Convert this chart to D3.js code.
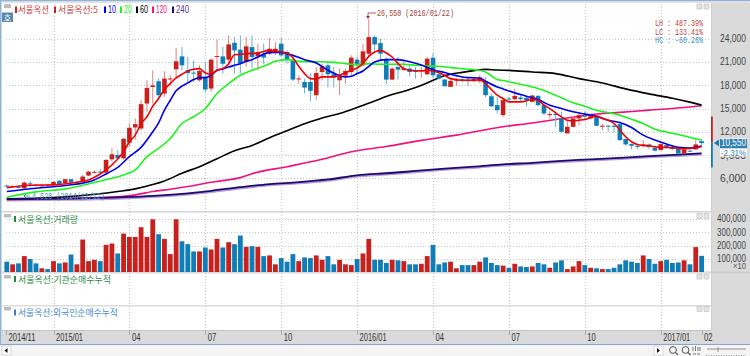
<!DOCTYPE html>
<html><head><meta charset="utf-8">
<script src="https://cdn.jsdelivr.net/npm/d3@7"></script>
<style>html,body{margin:0;padding:0;background:#fff;overflow:hidden}svg{display:block}</style>
</head><body><svg id="c" width="750" height="356"></svg>
<script>
const candleOpen=[5060,4950,4900,4720,5350,5170,5020,5100,5150,5680,
5370,5880,5450,5580,6350,6800,6860,6730,8450,9010,
8580,10600,12570,12440,15660,17800,18540,16950,18850,20085,
21755,19960,19650,18670,19100,17600,21700,21755,21330,23515,
22620,21030,22960,21755,22100,22100,22315,23390,22315,21330,
18800,18450,18450,16740,19740,20600,19440,18670,19270,19740,
21330,20600,22100,24245,23475,21330,18755,20385,20000,20170,
19960,19900,19440,21585,19440,18755,17810,18700,18800,18755,
18540,18540,18540,16600,15450,14165,16300,16225,16440,16400,
15880,16650,15450,14200,14300,13730,11800,12650,13730,14100,
13730,14030,12700,12800,12780,13000,11070,10420,10190,10170,
10380,9950,9650,10300,10080,9780,9220,9570,9740,10800];
const candleClose=[5000,5010,4850,5450,5300,5120,5080,5050,5530,5280,
5880,5450,5500,6220,6860,6840,6800,8370,9100,8580,
11110,12530,13000,15580,17680,18000,16740,18880,18900,21115,
20600,19600,19550,19870,17470,21330,21800,20800,23300,22530,
20815,23050,21670,22315,21600,22740,22740,21885,21330,18755,
18900,17725,17300,19600,20470,19440,19010,19180,19870,21585,
20600,22400,24245,23300,22100,18755,20170,20040,20200,19740,
19740,19990,21460,19310,18880,17900,18585,18780,18700,18540,
18880,19010,16740,15300,14800,16100,16200,16650,16225,16100,
16700,15450,14380,14300,14200,12010,12650,13730,14160,14000,
14030,12790,12800,12700,12700,10940,10380,10200,10100,10380,
10080,9570,10420,10000,9780,9220,9740,9500,10380,10550];
const candleHigh=[5200,5100,4950,5580,5650,5300,5200,5200,5620,5750,
5950,5950,5700,6430,6950,7050,7180,8500,9870,9650,
11250,13080,13730,16100,18670,19950,18900,19830,19300,22830,
22960,21670,21240,20600,21000,21500,23900,23000,24460,24250,
24460,24250,24460,23390,23400,24160,23600,24160,22530,21670,
19300,18880,19530,20385,20800,21030,20385,20170,20170,21885,
21755,23390,26550,24460,24030,21670,20385,21670,21240,20600,
20385,20400,21670,22185,19530,18880,18885,19000,19000,19100,
19000,19300,19100,16950,16500,16300,16500,17600,16740,16540,
16800,16740,15880,14660,14600,14600,13500,13950,14370,14670,
14200,14160,13080,12880,13000,13100,11160,10500,10300,10940,
10500,10080,10500,10380,10300,10000,9870,9740,10940,11000];
const candleLow=[4850,4800,4700,4520,4800,4900,4950,4950,5100,5200,
5300,5350,5300,5500,6300,6600,6650,6700,8150,8370,
8400,10080,11030,12200,14600,15670,16300,16520,18000,18880,
19960,18450,18450,18500,17040,17200,19740,19530,20600,19530,
19530,20400,20170,19960,20800,21900,21900,21670,20815,18540,
18240,16950,15965,16100,18670,17725,17725,16740,18240,19310,
19310,20470,21670,22530,21240,18150,18670,18755,19870,19180,
18880,19000,19310,18880,18750,17900,17800,18000,18400,17900,
18400,18300,16500,15220,14400,13950,15880,16100,15880,15300,
15850,15320,14165,13730,12650,11880,11800,12560,12870,13500,
13600,12750,12230,12010,11880,10800,10200,9740,9740,10000,
9740,9480,9570,9860,9650,9140,9140,9400,9650,10170];
const volume=[78,58,65,120,98,65,28,22,82,65,72,132,58,245,82,92,82,205,215,140,
290,265,265,338,265,398,285,250,135,398,232,210,155,155,185,170,250,185,225,210,
275,190,195,190,120,125,58,105,78,135,82,110,105,125,92,120,58,92,58,52,
98,140,250,92,92,68,92,88,82,58,58,62,120,205,58,72,78,28,52,52,
52,78,110,68,52,48,32,62,42,38,42,68,58,32,72,88,22,42,82,52,
32,28,22,22,32,58,88,78,68,125,98,62,82,92,68,72,88,58,188,122];

const ma5Idx=[0,4,8,12,14,16,18,20,21,22,23,24,25,26,27,28,29,30,31,32,33,34,35,36,37,38,39,40,41,43,45,47,48,49,50,51,52,53,54,56,57,59,60,61,62,63,64,65,66,67,68,69,71,72,73,75,76,78,80,81,82,83,84,85,86,88,90,91,92,93,94,95,96,97,98,99,100,101,102,103,104,105,106,107,108,110,112,114,116,118,119];
const ma5Val=[4800,5100,5150,5490,5790,6560,7720,9440,10725,11580,13080,13950,15320,16310,17460,18240,18970,19440,19870,20085,20170,19610,19440,19960,20170,20815,21970,22015,22100,22200,22530,22315,22190,21585,20470,19530,18880,18840,19100,19100,19310,19960,20260,20815,21760,22315,22530,22190,21670,20815,20170,19960,19870,19960,19870,19310,18880,18670,18670,18755,18240,17470,16740,16310,15880,15880,16180,16100,15450,15000,14460,13940,13510,13430,13510,13600,13860,14030,13730,13510,13080,12230,11370,10725,10380,10170,10000,9950,9820,9950,10080];
const ma10Idx=[0,5,10,15,17,19,21,23,25,26,27,28,29,30,31,32,33,34,35,36,37,38,39,40,41,42,43,45,47,49,51,53,55,57,58,59,60,61,62,63,65,67,69,71,73,75,77,79,81,82,84,85,87,89,91,93,95,97,99,101,103,105,107,109,111,113,115,117,119];
const ma10Val=[4290,4720,5060,5790,6560,7420,8800,10000,12010,13170,14800,16090,17300,17900,18325,18755,19010,19010,19310,19960,20130,20385,20600,20815,21115,21330,21670,22270,22270,21885,21330,20900,19960,19270,19100,19180,19530,19870,20470,21030,21330,21330,21070,20640,20040,19660,19270,19010,18970,18540,17810,17550,17040,16610,16180,15450,15020,14590,14290,14030,13510,13210,12570,11580,10940,10420,10000,9910,10170];
const ma20Idx=[0,5,10,15,18,20,22,24,26,28,30,32,34,36,38,40,42,44,46,48,50,52,54,56,58,60,62,64,66,68,70,72,74,76,78,80,82,84,85,87,89,91,93,95,97,99,101,103,105,107,109,111,113,115,117,119];
const ma20Val=[3560,4250,4630,5450,6000,6430,7080,8790,9870,11150,13080,13950,15020,16950,18240,19310,19960,20470,21115,21330,21115,21070,21070,20985,20815,20685,20815,20730,20730,20730,20600,20515,20470,20300,20170,20040,19740,18755,18630,18325,17980,17600,17040,16400,15750,15320,14800,14500,14160,13640,13080,12350,11970,11670,11280,10940];
const ma60Idx=[0,8,16,19,22,25,27,30,33,36,39,42,45,48,51,54,57,60,63,66,69,72,74,76,78,80,82,84,86,90,94,98,102,106,110,114,117,119];
const ma60Val=[3350,3500,4000,4290,4630,5190,5660,6650,7500,8530,9570,10250,11250,12150,13040,13800,14370,15150,16000,16820,17460,18320,19000,19435,19690,19910,20080,19990,19950,19740,19530,18880,18325,17555,16910,16350,15840,15450];
const ma120Idx=[0,10,19,22,25,28,31,34,37,40,42,48,54,59,65,71,77,85,90,94,98,101,105,110,116,119];
const ma120Val=[3250,3400,3600,3860,4290,4590,4930,5360,5700,6090,6600,7500,8460,9440,10100,10900,11580,12660,13150,13600,14000,14300,14520,14810,15140,15365];
const ma240Idx=[0,10,20,25,30,35,40,45,50,55,60,65,70,75,80,85,90,95,100,105,110,115,119];
const ma240Val=[3300,3370,3560,3730,3990,4380,4850,5250,5500,5850,6380,6650,6950,7250,7500,7800,8000,8260,8450,8650,8870,9050,9220];

const priceTicks=[24000,21000,18000,15000,12000,9000,6000];
const volTicks=[400000,300000,200000,100000];
const dateTickIdx=[-0.9,8,21,34,47,60,73,86,99,112,119];
const dateTickLabels=["2014/11","2015/01","04","07","10","2016/01","04","07","10","2017/01","02"];
const lastPrice=10550;

const RED="#c8201c",BLUE="#0f7db8",GRID="#c6c6c6",PANEL="#dadada";
const KR="'Noto Sans CJK KR','Noto Sans',sans-serif",NUM="'Liberation Sans',Arial,sans-serif",MONO="'Liberation Mono',monospace";
const svg=d3.select("#c");
const x=d3.scaleLinear().domain([0,119]).range([6.8,701.6]);
const y=d3.scaleLinear().domain([6000,24000]).range([178.3,39]);
const yv=d3.scaleLinear().domain([0,400000]).range([272,219]);

function rect(a,b,w,h,f){return svg.append("rect").attr("x",a).attr("y",b).attr("width",w).attr("height",h).attr("fill",f);}
// text narrowed to a target width with a horizontal scale, as in the reference's condensed bitmap font
function txt(s,a,b,o){o=o||{};
 const e=svg.append("text").text(s)
 .attr("font-family",o.font||NUM).attr("font-size",o.size||10).attr("fill",o.fill||"#333").attr("dominant-baseline","central");
 if(o.len){
  const natural=e.node().getComputedTextLength();
  const k=o.len/natural;
  const ax=o.anchor==="end"?a-o.len:a;
  e.attr("transform",`translate(${ax},${b}) scale(${k},1)`);
 }else{
  e.attr("x",a).attr("y",b).attr("text-anchor",o.anchor||"start");
 }
 return e;}

// frame
rect(0,0,750,356,"#fff");
rect(711,3,39,328,PANEL);
rect(0,0,750,1.5,"#8fb4d8");
rect(0,0,1.5,345,"#8fb4d8");
rect(1.5,1.5,748,1.5,"#e2e2e2");
rect(2,211,709,1.5,"#d4d4d4");
rect(2,271.5,748,1,"#cfcfcf");
rect(2,272,709,1.5,"#dcdcdc");
rect(2,305,709,1.5,"#dcdcdc");
rect(2,330,748,14,PANEL);
rect(2,330,709,1,"#c4c4c4");
rect(711,272,39,1,"#c8c8c8");
rect(711,3,1,328,"#cfcfcf");
rect(0,344,750,1.2,"#7fa9d4");
rect(0,345.2,750,11,"#f4f4f4");

// grid
const gridG=svg.append("g").attr("stroke",GRID).attr("stroke-dasharray","1,2").attr("shape-rendering","crispEdges");
gridG.selectAll("line.h").data(priceTicks).join("line").attr("class","h").attr("x1",6).attr("x2",711).attr("y1",d=>Math.round(y(d))).attr("y2",d=>Math.round(y(d)));
gridG.selectAll("line.v").data(volTicks).join("line").attr("class","v").attr("x1",6).attr("x2",711).attr("y1",d=>Math.round(yv(d))).attr("y2",d=>Math.round(yv(d)));
const vg=dateTickIdx.slice(1,10);
[[4,211],[212,272],[273,305],[306,330]].forEach(r=>{
 const g=svg.append("g").attr("stroke",GRID).attr("stroke-dasharray","1,2").attr("shape-rendering","crispEdges");
 g.selectAll("line").data(vg).join("line").attr("x1",d=>Math.round(x(d))+0.5).attr("x2",d=>Math.round(x(d))+0.5).attr("y1",r[0]).attr("y2",r[1]);
});
// date ticks
dateTickIdx.forEach((d,i)=>{
 const px=i==0?6:x(d);
 rect(Math.round(px),330,1,5,"#aaa");
 const lab=dateTickLabels[i];
 txt(lab,px+2.5,338,{size:10,fill:"#333",len:lab.length==7?27:8.5});
});

// moving averages
const lineGen=(idx)=>d3.line().x((d,i)=>x(idx[i])).y(d=>y(d)).curve(d3.curveMonotoneX);
function ma(idx,val,color,w,dy){svg.append("path").attr("d",lineGen(idx)(val)).attr("fill","none").attr("stroke",color).attr("stroke-width",w).attr("stroke-linejoin","round").attr("transform",dy?`translate(0,${dy})`:null);}
ma(ma240Idx,ma240Val,"#b79ad8",2,1.2);
ma(ma120Idx,ma120Val,"#f0107f",1.6);
ma(ma60Idx,ma60Val,"#000000",1.6);
ma(ma240Idx,ma240Val,"#1c0a70",1.8);

// candles
const idxs=d3.range(candleOpen.length);
const up=i=>candleClose[i]>=candleOpen[i];
svg.append("g").selectAll("line").data(idxs).join("line")
 .attr("x1",i=>x(i)).attr("x2",i=>x(i)).attr("y1",i=>y(candleHigh[i])).attr("y2",i=>y(candleLow[i]))
 .attr("stroke",i=>up(i)?"#e07f7f":"#62b2d8").attr("stroke-width",1);
svg.append("g").selectAll("rect").data(idxs).join("rect")
 .attr("x",i=>x(i)-2.3).attr("width",4.6)
 .attr("y",i=>y(Math.max(candleOpen[i],candleClose[i])))
 .attr("height",i=>Math.max(1,Math.abs(y(candleOpen[i])-y(candleClose[i]))))
 .attr("fill",i=>up(i)?RED:BLUE);

ma(ma20Idx,ma20Val,"#1cf51c",1.6);
ma(ma10Idx,ma10Val,"#0000e6",1.6);
ma(ma5Idx,ma5Val,"#f00000",1.6);

// volume
svg.append("g").selectAll("rect").data(idxs).join("rect")
 .attr("x",i=>x(i)-2.4).attr("width",4.8)
 .attr("y",i=>yv(volume[i]*1000)).attr("height",i=>yv(0)-yv(volume[i]*1000))
 .attr("fill",i=>up(i)?RED:BLUE);

// price axis
priceTicks.forEach(t=>txt(d3.format(",")(t),746,y(t),{anchor:"end",size:10,fill:"#444",len:26}));
volTicks.forEach(t=>txt(d3.format(",")(t),746,yv(t),{anchor:"end",size:10,fill:"#444",len:29}));
txt("×10",746,266,{anchor:"end",size:9,fill:"#555",len:13});

// last price marker
rect(711,116.5,1.8,26,RED);
rect(711,142.5,1.8,25,BLUE);
svg.append("path").attr("d",`M714,${y(lastPrice)}l5,-3.5v7z`).attr("fill",BLUE);
rect(720,139,27,9.5,"#2f80b6");
rect(720,148.5,27,8,"#fff");
txt(d3.format(",")(lastPrice),746,y(lastPrice),{anchor:"end",size:10,fill:"#fff",len:25});
txt("-2.31%",746,152.5,{anchor:"end",size:9,fill:"#2f80b6",len:25});

// annotations
svg.append("path").attr("d","M368,18V13H376").attr("fill","none").attr("stroke","#b03030").attr("stroke-width",0.8);
svg.append("path").attr("d","M366,16h4l-2,3z").attr("fill","#b03030");
txt("26,550 (2016/01/22)",377,13.5,{font:MONO,size:9.5,fill:"#a83c3c",len:77});
svg.append("path").attr("d","M24,196H30M24,196l2,-2M24,196l2,2").attr("fill","none").attr("stroke",BLUE).attr("stroke-width",0.8);
txt("4,520 (2014/12/12)",32,196,{font:MONO,size:9,fill:"#3a96c8",len:73});
txt("LH : 487.39%",655,23.5,{font:MONO,size:9,fill:"#c03a3a",len:48});
txt("LC : 133.41%",655,32,{font:MONO,size:9,fill:"#c03a3a",len:48});
txt("HC : -60.26%",655,40.5,{font:MONO,size:9,fill:"#2f90c4",len:48});

// legends
const legendY=9.5;
[[15,"서울옥션",RED,31,18],[54,"서울옥션:5",RED,40,58]].forEach(l=>{rect(l[0],legendY-3,2,6.5,RED);txt(l[1],l[4],legendY,{font:KR,size:9,fill:"#d04040",len:l[3]});});
[[104,"10","#0000e6",108,8],[120,"20","#1cf51c",124,8],[136,"60","#000",140,8],[152,"120","#f0107f",156,11],[172,"240","#5b2f98",176,13]].forEach(l=>{rect(l[0],legendY-3,2,6.5,l[2]==="#5b2f98"?"#1c0a70":l[2]);txt(l[1],l[3],legendY,{size:10,fill:l[2],len:l[4]});});
const greenT="#2e8b4a";
rect(14,216,2,6,"#1f8a3c");txt("서울옥션:거래량",18,219,{font:KR,size:9,fill:greenT,len:60});
rect(14,276,2,6,"#1f8a3c");txt("서울옥션:기관순매수누적",18,279,{font:KR,size:9,fill:greenT,len:93});
rect(14,309.5,2,6,"#3a7fc4");txt("서울옥션:외국인순매수누적",18,312.5,{font:KR,size:9,fill:"#4a8ad0",len:100});

// panel buttons
rect(4,4,7,4,"#bdbdbd");
[214,275,307].forEach(b=>rect(4,b,7,3.5,"#bdbdbd"));
rect(2,12.5,11,9.5,"#5a87ad");
txt("호",7.5,17.5,{font:KR,size:8,fill:"#fff",anchor:"middle"});
[4,213.5,274,306.5].forEach(b=>{[697,704].forEach(a=>{svg.append("rect").attr("x",a).attr("y",b).attr("width",5).attr("height",5).attr("fill","#e4e4e4").attr("stroke","#bbb").attr("stroke-width",0.6);});});

// toolbar
rect(2,346,9,9,"#fff").attr("stroke","#c4c4c4").attr("stroke-width",0.6);
svg.append("path").attr("d","M4.5,350.5l3,-2.5v5z").attr("fill","#111");
rect(654,346,9,9,"#fff").attr("stroke","#c4c4c4").attr("stroke-width",0.6);
svg.append("path").attr("d","M660,350.5l-3,-2.5v5z").attr("fill","#111");
[[673],[685.5]].forEach(a=>{svg.append("circle").attr("cx",a[0]).attr("cy",350).attr("r",3.4).attr("fill","none").attr("stroke","#555").attr("stroke-width",1);
 svg.append("path").attr("d",`M${a[0]+2.4},352.4l2.6,2.6`).attr("stroke","#555").attr("stroke-width",1.1);});
svg.append("path").attr("d","M693,347v4M695.5,346v5M698,347v4M700,347v4M693,354h3M697,354h3").attr("stroke","#777").attr("stroke-width",1).attr("fill","none");
svg.append("path").attr("d","M707,349H746M718,347v5").attr("stroke","#888").attr("stroke-width",0.9).attr("fill","none");
svg.append("path").attr("d","M706,355.5H746").attr("stroke","#999").attr("stroke-width",1).attr("stroke-dasharray","1,1.5");
</script></body></html>
